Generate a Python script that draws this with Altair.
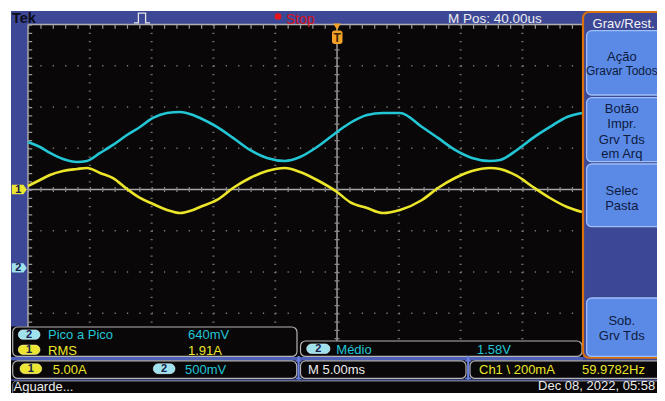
import altair as alt
import pandas as pd

# ---------------- data ----------------
# time relative to trigger (ms), M = 5.00 ms/div
T_MS = [-25.00, -24.03, -23.22, -22.17, -21.04, -20.23, -19.17, -18.12, -16.99, -15.94,
        -14.89, -13.75, -12.70, -11.65, -11.08, -9.71, -8.41, -7.04, -5.66, -4.21,
        -2.99, -1.62, 0.00, 1.05, 2.43, 3.72, 5.10, 6.88, 8.17, 9.55,
        10.92, 12.38, 13.19, 14.56, 15.86, 17.23, 18.61, 19.82]
# channel 1 (yellow), amperes, 5.00 A/div, position 0 div
CH1_A = [0.42, 1.15, 1.76, 2.24, 2.48, 2.61, 2.00, 1.39, 0.06, -1.03,
         -1.76, -2.48, -2.85, -2.48, -2.12, -1.27, 0.18, 1.39, 2.24, 2.61,
         2.12, 1.15, -0.30, -1.52, -2.24, -2.85, -2.48, -1.27, 0.18, 1.39,
         2.24, 2.61, 2.48, 1.64, 0.30, -1.03, -2.12, -2.73]
# channel 2 (cyan), volts, 500 mV/div, position -1.9 div
CH2_V = [1.526, 1.465, 1.393, 1.320, 1.284, 1.296, 1.393, 1.490, 1.611, 1.708,
         1.817, 1.878, 1.890, 1.853, 1.817, 1.708, 1.575, 1.429, 1.332, 1.296,
         1.344, 1.465, 1.647, 1.756, 1.853, 1.878, 1.878, 1.708, 1.575, 1.429,
         1.332, 1.296, 1.308, 1.429, 1.575, 1.708, 1.829, 1.878]
CH1_SCALE, CH1_POS = 5.0, 0.0
CH2_SCALE, CH2_POS = 0.5, -1.9

GRID_T = [-20, -15, -10, -5, 5, 10, 15, 20]   # ms, dotted division lines
GRID_D = [-3, -2, -1, 1, 2, 3]                # div, dotted division lines

READ1 = [("2", "Pico a Pico", "640mV"), ("1", "RMS", "1.91A")]
READ2 = ("2", "Médio", "1.58V")
STATUS = ["5.00A", "500mV", "M 5.00ms", "Ch1 \\ 200mA", "59.9782Hz"]
MENU_TITLE = "Grav/Rest."
MENU_BUTTONS = [["Ação", "Gravar Todos"], ["Botão", "Impr.", "Grv Tds", "em Arq"],
                ["Selec", "Pasta"], ["Sob.", "Grv Tds"]]
TOPBAR = ["Tek", "Stop", "M Pos: 40.00us"]
BOTTOM = ["Aguarde...", "Dec 08, 2022, 05:58"]

# ---------------- styling ----------------
FONT = "Liberation Sans"
BLUE = "#3c4896"
BLACK = "#0a0709"
YEL = "#ece62a"
CYAN = "#22c6d4"
YEL_PILL = "#ece632"
CYAN_PILL = "#9fe2ee"
GRAYB = "#b4b4b4"
ORANGE = "#d9720e"
BTN = "#5a8ae6"
BTN_EDGE = "#9ebff8"
WHITE = "#ececec"

OX, OY = 11, 11               # window position of the plot origin
W, H = 646, 382               # keeps the page inside 665 x 401 with its 8px margin
CX, DX = 337.0, 61.8          # graticule centre x and px/div
CY, DY = 189.5, 41.25         # graticule centre y and px/div
XMIN = (OX - CX) / DX * 5
XMAX = (OX + W - CX) / DX * 5
YTOP = (CY - OY) / DY
YBOT = (CY - (OY + H)) / DY

XS = alt.Scale(domain=[XMIN, XMAX], nice=False, zero=False)
YS = alt.Scale(domain=[YBOT, YTOP], nice=False, zero=False)


def fx(x):
    # side-menu strip squeezed slightly so that the page fits the window
    return x if x <= 583 else 583 + (x - 583) * (OX + W - 583) / (665 - 583)


def fy(y):
    # readout strip squeezed slightly so that the page fits the window
    return y if y <= 327 else 327 + (y - 327) * (OY + H - 327) / (401 - 327)


def X(f):
    return alt.X(f, scale=XS, axis=None)


def Y(f):
    return alt.Y(f, scale=YS, axis=None)


one = pd.DataFrame({"k": [0]})


def rect(x1, y1, x2, y2, **kw):
    return alt.Chart(one).mark_rect(**kw).encode(
        x=alt.value(fx(x1) - OX), x2=alt.value(fx(x2) - OX),
        y=alt.value(fy(y1) - OY), y2=alt.value(fy(y2) - OY))


def text(x, y, s, color, size=13, align="left", weight="normal", squeeze=True):
    yy = fy(y) if squeeze else y
    return alt.Chart(one).mark_text(
        text=s, color=color, fontSize=size, align=align, baseline="alphabetic",
        font=FONT, fontWeight=weight).encode(x=alt.value(fx(x) - OX), y=alt.value(yy - OY))


def pill(x1, y1, x2, y2, fill, digit):
    edge = "#d8f4f8" if fill == CYAN_PILL else "#f8f4a0"
    return [rect(x1, y1, x2, y2, fill=fill, cornerRadius=5.5, stroke=edge, strokeWidth=0.6),
            text((x1 + x2) / 2, y2 - 1.8, digit, "#16204a", size=11, align="center", weight="bold")]


def vlines(ts, y1, y2, **kw):
    d = pd.DataFrame({"t": ts, "a": [y1] * len(ts), "b": [y2] * len(ts)})
    return alt.Chart(d).mark_rule(**kw).encode(x=X("t:Q"), y=Y("a:Q"), y2="b:Q")


def hlines(ds, t1, t2, **kw):
    d = pd.DataFrame({"d": ds, "a": [t1] * len(ds), "b": [t2] * len(ds)})
    return alt.Chart(d).mark_rule(**kw).encode(y=Y("d:Q"), x=X("a:Q"), x2="b:Q")


layers = []

# screen backgrounds
layers += [
    rect(28, 24.5, 583, 362, fill=BLACK),
    rect(11, 326.5, 28, 361, fill=BLACK),
    rect(11, 360.5, 583, 364.5, fill="#4d5fb8"),
    rect(11, 364.5, 665, 385.5, fill=BLACK),
    rect(11, 387.5, 665, 401, fill=BLACK),
]

# graticule
px_ms = 5 / DX
px_div = 1 / DY
layers += [
    vlines(GRID_T, 4, -4, color="#6c6c6c", strokeWidth=2.2, strokeDash=[1.2, DY / 5 - 1.2]),
    hlines(GRID_D, -25, 25, color="#7a7a7a", strokeWidth=1.3, strokeDash=[1.3, DX / 5 - 1.3]),
    vlines([0], 4, -4, color="#a6a6a6", strokeWidth=1.4),
    hlines([0], -25, 25, color="#a6a6a6", strokeWidth=1.4),
    vlines([0], 4, -4, color="#8a8a8a", strokeWidth=5, strokeDash=[1.2, DY / 5 - 1.2]),
    hlines([0], -25, 25, color="#8a8a8a", strokeWidth=5, strokeDash=[1.2, DX / 5 - 1.2]),
    hlines([4], -25, 25, color="#b0b0b0", strokeWidth=1.4),
    vlines([-25], 4, -4, color="#b0b0b0", strokeWidth=1.4),
    hlines([4 - 2.2 * px_div], -25, 25, color="#9a9a9a", strokeWidth=4, strokeDash=[1.2, DX / 5 - 1.2]),
    vlines([-25 + 2.2 * px_ms], 4, -4, color="#9a9a9a", strokeWidth=4, strokeDash=[1.2, DY / 5 - 1.2]),
]

# traces
df1 = pd.DataFrame({"t": T_MS, "v": CH1_A})
df2 = pd.DataFrame({"t": T_MS, "v": CH2_V})
layers += [
    alt.Chart(df2).transform_calculate(d=f"datum.v / {CH2_SCALE} + ({CH2_POS})")
    .mark_line(color=CYAN, strokeWidth=2.6, interpolate="monotone")
    .encode(x=X("t:Q"), y=Y("d:Q")),
    alt.Chart(df1).transform_calculate(d=f"datum.v / {CH1_SCALE} + ({CH1_POS})")
    .mark_line(color=YEL, strokeWidth=2.6, interpolate="monotone")
    .encode(x=X("t:Q"), y=Y("d:Q")),
]

# trigger marker
trig = pd.DataFrame({"t": [0]})
layers += [
    alt.Chart(trig).mark_point(shape="triangle-down", filled=True, color="#f2a224",
                               size=55, opacity=1).encode(x=X("t:Q"), y=alt.value(26.8 - OY)),
    rect(332, 30.5, 342.5, 44, fill="#f2a224", cornerRadius=2.5),
    text(337.2, 42, "T", "#3a2200", size=12, align="center", weight="bold"),
]

# channel tags
TAG = "M-1,-0.62L0.55,-0.62L1,0L0.55,0.62L-1,0.62Z"
tags = pd.DataFrame({"d": [CH1_POS, CH2_POS], "lab": ["1", "2"], "c": [YEL_PILL, CYAN_PILL]})
layers += [
    alt.Chart(tags).mark_point(shape=TAG, filled=True, size=225, opacity=1)
    .encode(x=alt.value(19.3 - OX), y=Y("d:Q"),
            color=alt.Color("c:N", scale=None, legend=None)),
    alt.Chart(tags).mark_text(font=FONT, fontSize=11, fontWeight="bold", color="#16204a",
                              baseline="middle", align="center")
    .encode(x=alt.value(18.2 - OX), y=Y("d:Q"), text="lab:N"),
]

# readouts
layers += [rect(12.7, 327, 297, 360, fill=BLACK, stroke=GRAYB, strokeWidth=1.2, cornerRadius=5)]
for i, (dig, lab, val) in enumerate(READ1):
    y1 = 330.3 + 17 * i
    col = CYAN if dig == "2" else YEL
    layers += pill(18.3, y1, 40, y1 + 10.5, CYAN_PILL if dig == "2" else YEL_PILL, dig)
    layers += [text(48, y1 + 10.6, lab, col), text(188, y1 + 10.6, val, col)]

layers += [rect(300.5, 342.7, 582, 360, fill=BLACK, stroke=GRAYB, strokeWidth=1.2, cornerRadius=5)]
layers += pill(306.7, 346, 330, 356.7, CYAN_PILL, READ2[0])
layers += [text(336.3, 357, READ2[1], CYAN), text(477, 357, READ2[2], CYAN)]

# status row
layers += [
    rect(12.7, 365, 296.7, 384.7, fill=BLACK, stroke=GRAYB, strokeWidth=1.2, cornerRadius=5),
    rect(300.5, 365, 466, 384.7, fill=BLACK, stroke=GRAYB, strokeWidth=1.2, cornerRadius=5),
    rect(470, 365, 720, 384.7, fill=BLACK, stroke=GRAYB, strokeWidth=1.2, cornerRadius=5),
]
layers += pill(20, 368.3, 41.7, 379.3, YEL_PILL, "1")
layers += pill(153.3, 368.3, 175, 379.3, CYAN_PILL, "2")
layers += [
    text(52.7, 379.5, STATUS[0], YEL),
    text(185, 379.5, STATUS[1], CYAN),
    text(308, 379.5, STATUS[2], WHITE),
    text(479, 380, STATUS[3], YEL),
    text(582, 380, STATUS[4], YEL),
]
# small position markers between boxes
for xm in (298.6, 468.2):
    layers += [
        alt.Chart(one).mark_rule(color="#6a82e0", strokeWidth=2.2).encode(
            x=alt.value(xm - OX), y=alt.value(fy(359.5) - OY), y2=alt.value(fy(386) - OY)),
        alt.Chart(one).mark_rule(color="#6a82e0", strokeWidth=1.5).encode(
            x=alt.value(xm - 3 - OX), x2=alt.value(xm + 3 - OX), y=alt.value(fy(365) - OY)),
        alt.Chart(one).mark_rule(color="#6a82e0", strokeWidth=1.5).encode(
            x=alt.value(xm - 3 - OX), x2=alt.value(xm + 3 - OX), y=alt.value(fy(384.5) - OY)),
    ]

# bottom row
layers += [
    rect(12.7, 387.5, 720, 430, fill=BLACK, stroke="#8a8a8a", strokeWidth=1, cornerRadius=4),
    text(13.5, 398.5, BOTTOM[0], WHITE),
    text(663, 398, BOTTOM[1], WHITE, align="right"),
]

# side menu
layers += [
    rect(583, 12, 720, 361.5, fill=BLUE, stroke=ORANGE, strokeWidth=2.2, cornerRadius=6),
    text(628, 27.5, MENU_TITLE, "#f4f4f4", align="center"),
]
BTN_BOX = [(30.7, 95), (97.7, 161.7), (164, 226.7), (298, 360)]
BTN_BASE = [[61, 75], [113, 128, 143.5, 158], [194.5, 209.5], [325, 340]]
for (y1, y2), lines, bases in zip(BTN_BOX, MENU_BUTTONS, BTN_BASE):
    layers += [rect(587, y1, 720, y2, fill=BTN, stroke=BTN_EDGE, strokeWidth=1.3, cornerRadius=5)]
    for s, b in zip(lines, bases):
        size = 12 if len(s) > 10 else 13
        layers += [text(626, b, s, "#0e1a40", size=size, align="center", squeeze=False)]

# top bar
PULSE = "M-1,0.6L-0.45,0.6L-0.45,-0.6L0.45,-0.6L0.45,0.6L1,0.6"
layers += [
    text(12, 23, TOPBAR[0], "#0c0c16", size=14.5, weight="bold"),
    alt.Chart(one).mark_point(shape=PULSE, filled=False, color="#e4e4e4", strokeWidth=1.3,
                              size=256, opacity=1).encode(x=alt.value(142 - OX), y=alt.value(18 - OY)),
    alt.Chart(one).mark_point(shape="circle", filled=True, color="#e8141c", size=44,
                              opacity=1).encode(x=alt.value(278 - OX), y=alt.value(16.5 - OY)),
    text(286, 23.5, TOPBAR[1], "#d8141e", size=14),
    text(448, 22.7, TOPBAR[2], WHITE, size=13.5),
]

chart = alt.layer(*layers).properties(
    width=W, height=H,
    padding={"left": 3, "top": 3, "right": 0, "bottom": 0},
    autosize=alt.AutoSizeParams(type="none"),
    background="white",
).configure_view(fill=BLUE, stroke=None)

chart.save("out.html", embed_options={"renderer": "svg", "actions": False})
